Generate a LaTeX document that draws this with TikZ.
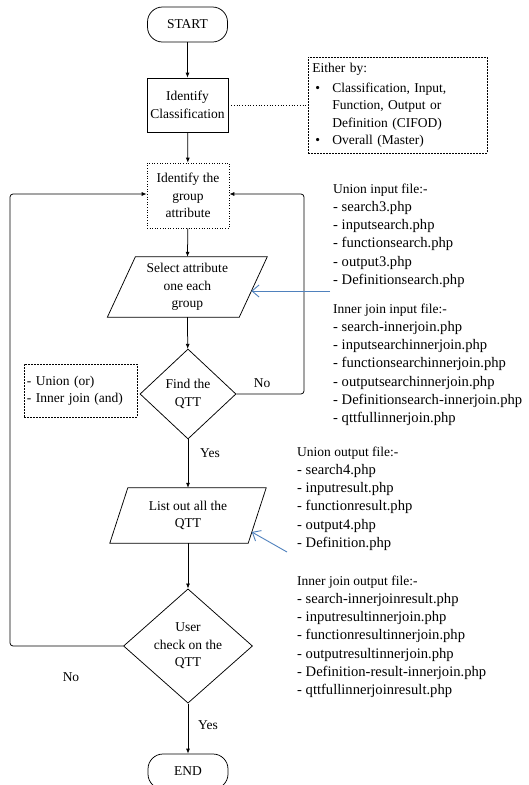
\documentclass[tikz,border=0pt]{standalone}
\usepackage{fontspec}
\setmainfont{Liberation Serif}
\usetikzlibrary{shapes.geometric,arrows.meta,calc}
\definecolor{arrowblue}{RGB}{79,129,189}
\newcommand{\itemfont}{\fontsize{14.6}{18.2}\selectfont}
\newcommand{\headfont}{\fontsize{13.5}{18.2}\selectfont}
\begin{document}
\begin{tikzpicture}[x=1pt,y=-1pt,
  every node/.style={font=\fontsize{13.5}{17.5}\selectfont, inner sep=0pt},
  line/.style={draw=black, line width=0.75pt},
  arr/.style={line, -{Latex[length=5pt,width=4pt]}},
  bluearr/.style={draw=arrowblue, line width=0.9pt, -{Straight Barb[length=7pt,width=12pt,line width=0.9pt]}},
  term/.style={draw, line width=0.75pt, rounded corners=15pt, minimum width=80pt, minimum height=35pt},
  procbox/.style={draw, line width=0.75pt, minimum width=81pt, minimum height=54pt, align=center},
  dec/.style={draw, line width=0.75pt, diamond, align=center},
  iobox/.style={align=center},
  notebox/.style={draw, line width=0.6pt, dash pattern=on 2pt off 1pt, align=left},
  filelist/.style={anchor=west, align=left, font=\itemfont}
]
\useasboundingbox (0,0) rectangle (528,785);
\fill[white] (0,0) rectangle (528,785);

% main flow nodes
\node[term] (start) at (187.5,24.5) {START};
\node[procbox] (ident) at (187.5,105) {Identify\\Classification};
\node[draw, dotted, line width=0.6pt, minimum width=82pt, minimum height=65pt, align=center] (group) at (188,195.5) {Identify the\\group\\attribute};
\node[iobox, minimum width=131.5pt, minimum height=60pt] (sel) at (187.3,287) {Select attribute\\one each\\group};
\draw[line] ($(sel.north west)+(14,0)$) -- ($(sel.north east)+(14,0)$) -- ($(sel.south east)+(-14,0)$) -- ($(sel.south west)+(-14,0)$) -- cycle;
\node[dec, minimum width=96pt, minimum height=90pt] (find) at (188,394) {Find the\\QTT};
\node[iobox, minimum width=138pt, minimum height=55pt] (list) at (188,515.5) {List out all the\\QTT};
\draw[line] ($(list.north west)+(9,0)$) -- ($(list.north east)+(9,0)$) -- ($(list.south east)+(-9,0)$) -- ($(list.south west)+(-9,0)$) -- cycle;
\node[dec, minimum width=129pt, minimum height=102pt] (user) at (188,646) {User\\check on the\\QTT};
\node[term] (end) at (188,771.5) {END};

% side notes
\node[notebox, anchor=north west, text width=171pt, minimum height=96pt, inner sep=4pt] (either) at (308,57) {Either by:\\[2.4pt]
\makebox[20pt][l]{\hspace{3pt}\textbullet}Classification, Input,\\
\hspace*{20pt}Function, Output or\\
\hspace*{20pt}Definition (CIFOD)\\
\makebox[20pt][l]{\hspace{3pt}\textbullet}Overall (Master)};
\node[notebox, text width=107pt, minimum height=53pt, inner sep=3pt, font=\fontsize{13.5}{17}\selectfont] (setop) at (80.5,390.5) {- Union (or)\\- Inner join (and)};

\node[filelist] (inunion) at (333,235.5) {{\headfont Union input file:-}\\- search3.php\\- inputsearch.php\\- functionsearch.php\\- output3.php\\- Definitionsearch.php};
\node[filelist] (injoin) at (333,364.6) {{\headfont Inner join input file:-}\\- search-innerjoin.php\\- inputsearchinnerjoin.php\\- functionsearchinnerjoin.php\\- outputsearchinnerjoin.php\\- Definitionsearch-innerjoin.php\\- qttfullinnerjoin.php};
\node[filelist] (outunion) at (297,498.5) {{\headfont Union output file:-}\\- search4.php\\- inputresult.php\\- functionresult.php\\- output4.php\\- Definition.php};
\node[filelist] (outjoin) at (297,636.6) {{\headfont Inner join output file:-}\\- search-innerjoinresult.php\\- inputresultinnerjoin.php\\- functionresultinnerjoin.php\\- outputresultinnerjoin.php\\- Definition-result-innerjoin.php\\- qttfullinnerjoinresult.php};

% labels
\node (no1) at (262,383) {No};
\node (yes1) at (210,453) {Yes};
\node (no2) at (71,677) {No};
\node (yes2) at (208,725) {Yes};

% helper coordinates
\coordinate (leftx) at (10,0);
\coordinate (rightx) at (304,0);
\coordinate (b1s) at (330,291);
\coordinate (b2s) at (287,552);

% connectors
\draw[arr] (start) -- (ident);
\draw[arr] (ident) -- (group);
\draw[arr] (group) -- (sel);
\draw[arr] (sel) -- (find);
\draw[arr] (find) -- (list);
\draw[arr] (list) -- (user);
\draw[arr] (user) -- (end);
\draw[arr, rounded corners=3pt] (find.east) -- (find.east -| rightx) |- ($(group.east)+(0,-1.5)$);
\draw[arr, rounded corners=3pt] (user.west) -- (user.west -| leftx) |- ($(group.west)+(0,-1.5)$);
\draw[line, dotted, line width=0.6pt] (ident.east) -- (ident.east -| either.west);
\draw[bluearr] (b1s) -- ($(sel.east)+(-1.9,4)$);
\draw[bluearr] (b2s) -- ($(list.east)+(-5.4,16.5)$);
\end{tikzpicture}
\end{document}
